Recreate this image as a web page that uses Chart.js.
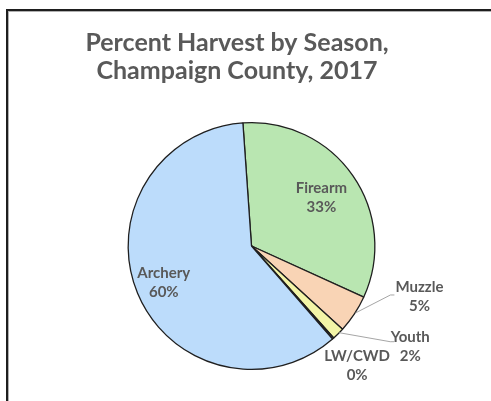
<!DOCTYPE html>
<html>
<head>
<meta charset="utf-8">
<script src="https://cdn.jsdelivr.net/npm/chart.js@4/dist/chart.umd.min.js"></script>
<style>
  html, body { margin: 0; padding: 0; background: #ffffff; }
  #wrap { width: 491px; height: 401px; position: relative; }
</style>
</head>
<body>
<div id="wrap"><canvas id="c" width="491" height="401"></canvas></div>
<script>
// ---- data ----
const categories = ['Firearm', 'Muzzle', 'Youth', 'LW/CWD', 'Archery'];
const harvestValues = [32.9, 5.0, 1.6, 0.2, 60.3];
const titleLines = ['Percent Harvest by Season,', 'Champaign County, 2017'];

// ---- styles ----
const sliceColors = ['#b9e6b1', '#f9d4b5', '#f3f5a7', '#e6e6e6', '#bcdcfb'];
const textColor = '#595959';
// label placement: inside labels use radius fraction; outside labels use offset from the arc edge
const labelStyle = [
  { inside: true, r: 0.69 },
  { inside: false, dx: 65, dy: -17, leader: true, lx: 36, ly: -19 },
  { inside: false, dx: 72, dy: 13, leader: true, lx: 52, ly: 8 },
  { inside: false, dx: 24, dy: 27, leader: false },
  { inside: true, r: 0.77 }
];

const framePlugin = {
  id: 'frame',
  beforeDraw(chart) {
    const ctx = chart.ctx;
    ctx.save();
    ctx.fillStyle = '#ffffff';
    ctx.fillRect(0, 0, chart.width, chart.height);
    ctx.fillStyle = '#1e1e1e';
    ctx.fillRect(6, 9, chart.width - 6, 2);
    ctx.fillRect(6, 9, 2, chart.height - 9);
    ctx.fillStyle = '#b0b0b0';
    ctx.fillRect(8, 11, chart.width - 8, 1);
    ctx.fillRect(8, 11, 1, chart.height - 11);
    ctx.restore();
  }
};

const titlePlugin = {
  id: 'customTitle',
  afterDraw(chart) {
    const ctx = chart.ctx;
    ctx.save();
    ctx.fillStyle = textColor;
    ctx.font = 'bold 25px Lato, "Open Sans", sans-serif';
    ctx.textAlign = 'center';
    ctx.textBaseline = 'middle';
    ctx.fillText(titleLines[0], 237, 43);
    ctx.fillText(titleLines[1], 237, 71);
    ctx.restore();
  }
};

const labelPlugin = {
  id: 'sliceLabels',
  afterDatasetsDraw(chart) {
    const ctx = chart.ctx;
    const meta = chart.getDatasetMeta(0);
    const total = harvestValues.reduce((a, b) => a + b, 0);
    ctx.save();
    ctx.font = 'bold 15px Lato, "Open Sans", sans-serif';
    ctx.fillStyle = textColor;
    ctx.textAlign = 'center';
    ctx.textBaseline = 'middle';
    meta.data.forEach((arc, i) => {
      const p = arc.getProps(['x', 'y', 'startAngle', 'endAngle', 'outerRadius'], true);
      const mid = (p.startAngle + p.endAngle) / 2;
      const st = labelStyle[i];
      const pct = Math.round(harvestValues[i] / total * 100) + '%';
      let lx, ly;
      if (st.inside) {
        lx = p.x + Math.cos(mid) * p.outerRadius * st.r;
        ly = p.y + Math.sin(mid) * p.outerRadius * st.r;
      } else {
        const ex = p.x + Math.cos(mid) * p.outerRadius;
        const ey = p.y + Math.sin(mid) * p.outerRadius;
        lx = ex + st.dx;
        ly = ey + st.dy;
        if (st.leader) {
          ctx.save();
          ctx.strokeStyle = '#a6a6a6';
          ctx.lineWidth = 1;
          ctx.beginPath();
          ctx.moveTo(ex + 1, ey - 1);
          ctx.lineTo(ex + st.lx, ey + st.ly);
          ctx.lineTo(ex + st.lx + 4, ey + st.ly);
          ctx.stroke();
          ctx.restore();
        }
      }
      ctx.fillText(categories[i], lx, ly - 9.5);
      ctx.fillText(pct, lx, ly + 9.5);
    });
    ctx.restore();
  }
};

new Chart(document.getElementById('c'), {
  type: 'pie',
  data: {
    labels: categories,
    datasets: [{
      data: harvestValues,
      backgroundColor: sliceColors,
      borderColor: '#1f1f1f',
      borderWidth: 1.3
    }]
  },
  options: {
    responsive: false,
    animation: false,
    rotation: -4,
    layout: { padding: { left: 127, right: 115, top: 122, bottom: 31 } },
    plugins: {
      legend: { display: false },
      tooltip: { enabled: false },
      title: { display: false }
    }
  },
  plugins: [framePlugin, titlePlugin, labelPlugin]
});
</script>
</body>
</html>
